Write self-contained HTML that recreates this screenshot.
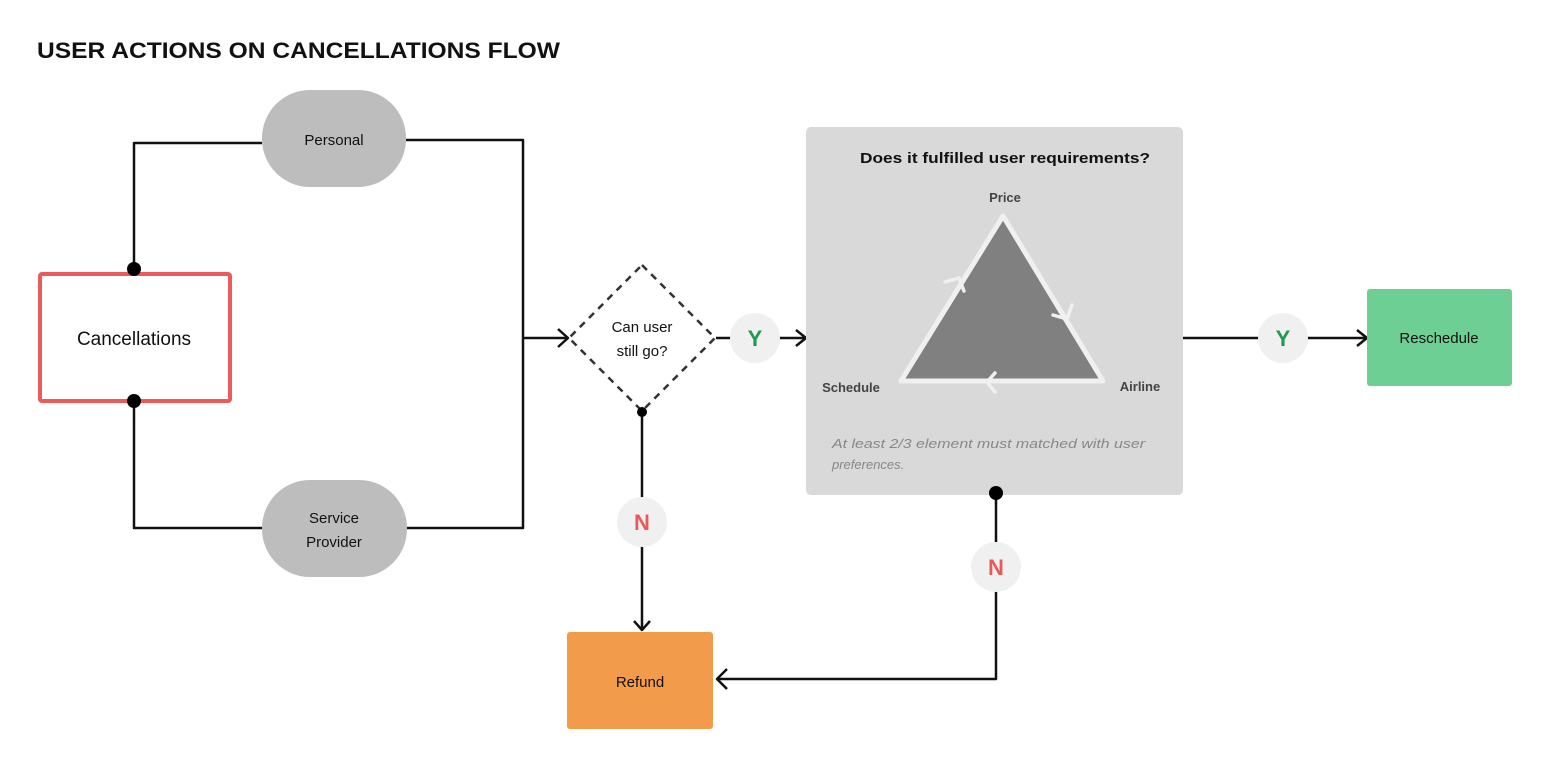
<!DOCTYPE html>
<html><head><meta charset="utf-8"><style>
html,body{margin:0;padding:0;background:#fff;}
svg{display:block;}
text{font-family:"Liberation Sans",sans-serif;}
</style></head><body>
<svg width="1568" height="779" viewBox="0 0 1568 779" xmlns="http://www.w3.org/2000/svg">
<rect width="1568" height="779" fill="#fff"/>
<text x="37" y="58" font-size="22" font-weight="bold" fill="#111" textLength="523" lengthAdjust="spacingAndGlyphs">USER ACTIONS ON CANCELLATIONS FLOW</text>

<g fill="none" stroke="#111" stroke-width="2.5" stroke-linejoin="round">
<path d="M134 269 V143 H262"/>
<path d="M134 401 V528 H262"/>
<path d="M406 140 H523 V528 H406"/>
<path d="M523 338 H568"/>
<path d="M558 329 L568 338 L558 347"/>
<path d="M716 338 H806"/>
<path d="M796 330 L806 338 L796 346"/>
<path d="M642 412 V630"/>
<path d="M634 621 L642 630 L650 621"/>
<path d="M996 493 V679 H717"/>
<path d="M727 669 L717 679 L727 689"/>
<path d="M1183 338 H1367"/>
<path d="M1357 330 L1367 338 L1357 346"/>
</g>

<rect x="40" y="274" width="190" height="127" fill="#fff" stroke="#ec5a5a" stroke-width="4" rx="2"/>
<text x="134" y="345" font-size="19" text-anchor="middle" fill="#111">Cancellations</text>
<circle cx="134" cy="269" r="7" fill="#000"/>
<circle cx="134" cy="401" r="7" fill="#000"/>

<rect x="262" y="90" width="144" height="97" rx="48" fill="#bdbdbd"/>
<text x="334" y="145" font-size="15" text-anchor="middle" fill="#111">Personal</text>
<rect x="262" y="480" width="145" height="97" rx="48" fill="#bdbdbd"/>
<text x="334" y="523" font-size="15" text-anchor="middle" fill="#111">Service</text>
<text x="334" y="547" font-size="15" text-anchor="middle" fill="#111">Provider</text>

<polygon points="642,265 715,338 642,411 569,338" fill="#fff" stroke="#333" stroke-width="2.5" stroke-dasharray="7,6"/>
<text x="642" y="332" font-size="15" text-anchor="middle" fill="#111">Can user</text>
<text x="642" y="356" font-size="15" text-anchor="middle" fill="#111">still go?</text>
<circle cx="642" cy="412" r="5" fill="#000"/>

<circle cx="755" cy="338" r="25" fill="#f0f0f0"/>
<text x="755" y="346" font-size="22" font-weight="bold" text-anchor="middle" fill="#1f9a4f">Y</text>
<circle cx="642" cy="522" r="25" fill="#f0f0f0"/>
<text x="642" y="530" font-size="22" font-weight="bold" text-anchor="middle" fill="#e85a5a">N</text>

<rect x="806" y="127" width="377" height="368" rx="5" fill="#d9d9d9"/>
<text x="860" y="163" font-size="15" font-weight="bold" fill="#111" textLength="290" lengthAdjust="spacingAndGlyphs">Does it fulfilled user requirements?</text>
<text x="1005" y="202" font-size="13" font-weight="bold" text-anchor="middle" fill="#444">Price</text>
<text x="851" y="392" font-size="13" font-weight="bold" text-anchor="middle" fill="#444">Schedule</text>
<text x="1140" y="391" font-size="13" font-weight="bold" text-anchor="middle" fill="#444">Airline</text>
<polygon points="1003,216 901,381 1103,381" fill="#808080" stroke="#f0f0f0" stroke-width="5" stroke-linejoin="round"/>
<g fill="none" stroke="#f0f0f0" stroke-width="3.5" stroke-linecap="round">
<path d="M945 282 L959 278 L964 291"/>
<path d="M1053 315 L1067 319 L1072 305"/>
<path d="M995 373 L987 382 L995 392"/>
</g>
<text x="832" y="448" font-size="13" font-style="italic" fill="#888" textLength="313" lengthAdjust="spacingAndGlyphs">At least 2/3 element must matched with user</text>
<text x="832" y="469" font-size="13" font-style="italic" fill="#888">preferences.</text>
<circle cx="996" cy="493" r="7" fill="#000"/>
<circle cx="996" cy="567" r="25" fill="#f0f0f0"/>
<text x="996" y="575" font-size="22" font-weight="bold" text-anchor="middle" fill="#e85a5a">N</text>

<circle cx="1283" cy="338" r="25" fill="#f0f0f0"/>
<text x="1283" y="346" font-size="22" font-weight="bold" text-anchor="middle" fill="#1f9a4f">Y</text>

<rect x="1367" y="289" width="145" height="97" rx="3" fill="#6ecf94"/>
<text x="1439" y="343" font-size="15" text-anchor="middle" fill="#111">Reschedule</text>

<rect x="567" y="632" width="146" height="97" rx="3" fill="#f29b4b"/>
<text x="640" y="687" font-size="15" text-anchor="middle" fill="#111">Refund</text>
</svg>
</body></html>
